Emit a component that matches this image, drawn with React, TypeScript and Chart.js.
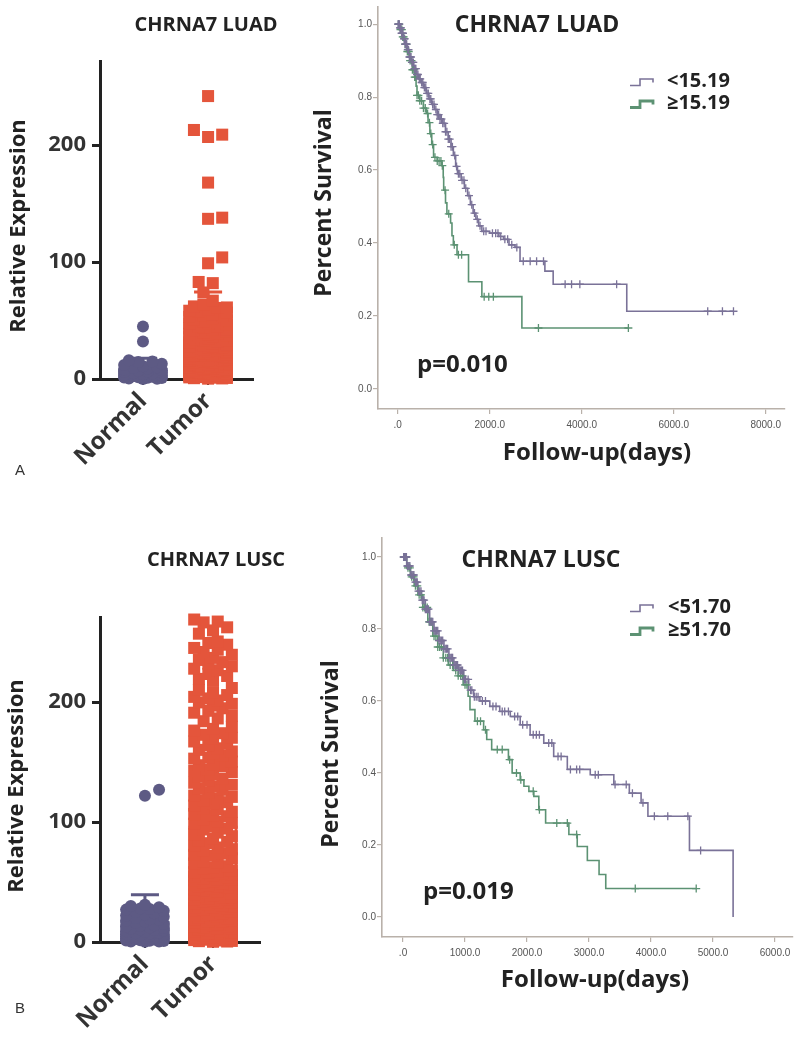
import React, { useEffect, useRef } from "react";
import { Chart, registerables } from "chart.js";
Chart.register(...registerables);

const FONT = "'Open Sans', 'DejaVu Sans', sans-serif";
const TICK_FONT = "'Liberation Sans', Arial, sans-serif";

// ---------- categories & ticks ----------
const categories = ["Normal", "Tumor"];
const exprTicks = [0, 100, 200];
const survTicks = [0, 0.2, 0.4, 0.6, 0.8, 1.0];
const luadDayTicks = [0, 2000, 4000, 6000, 8000];
const luscDayTicks = [0, 1000, 2000, 3000, 4000, 5000, 6000];

// ---------- panel A: LUAD expression ----------
const luadNormal = [45, 32, 16, 15, 14.5, 13, 12, 11, 10, 9.5, 9, 8, 7.5, 7, 6.5, 6, 5.5, 5, 4.5, 4, 3.5, 3, 2.5, 2, 1.5, 1.2, 1, 0.8, 0.5, 0.3, 0.1];
const luadTumor = [
  242, 213, 209, 207, 168, 138, 137, 104, 99, 83, 82, 74, 67,
  63.5, 62.1, 60.8, 59.2, 58.4, 56.9, 55.3, 54.7, 53.1, 51.6, 50.2, 49.5, 48.3, 47.1, 46.6, 45.2, 44.8,
  43.4, 42.2, 41.7, 40.3, 39.1, 38.6, 37.4, 36.2, 35.8, 34.5, 33.9, 32.6, 31.4, 30.8, 29.7, 29.1, 28.3,
  27.5, 26.8, 26.1, 25.4, 24.6, 23.9, 23.2, 22.7, 21.8, 21.1, 20.5, 19.8, 19.2, 18.4, 17.9, 17.1, 16.5,
  15.8, 15.2, 14.6, 13.9, 13.3, 12.7, 12.1, 11.5, 10.8, 10.2, 9.7, 9.1, 8.4, 7.9, 7.2, 6.6, 6.1, 5.4,
  4.9, 4.3, 3.8, 3.2, 2.7, 2.1, 1.6, 1.1, 0.7, 0.3,
  0.5, 0.9, 1.4, 1.8, 2.4, 2.9, 3.5, 4.1, 4.6, 5.2, 5.9, 6.3, 7.0, 7.6, 8.1, 8.8, 9.4, 10.0, 10.6, 11.2,
  11.9, 12.4, 13.0, 13.7, 14.3, 15.0, 15.5, 16.2, 16.9, 17.5, 18.1, 18.8, 19.5, 20.1, 20.8, 21.5, 22.3,
  23.0, 23.6, 24.3, 25.1, 25.8, 26.5, 27.3, 28.0, 28.8, 30.2, 31.9, 33.3, 35.1, 36.8, 38.2, 40.0, 42.5,
  44.1, 47.6, 50.8, 53.9, 57.5, 61.2,
];

// ---------- panel B: LUSC expression ----------
const luscNormal = [127, 122, 31, 30, 29, 28, 27.5, 27, 26, 25, 24, 23, 22, 21, 20, 19, 18.5, 18, 17, 16, 15, 14, 13.5, 13, 12, 11, 10, 9.5, 9, 8, 7, 6.5, 6, 5, 4.5, 4, 3.5, 3, 2.5, 2, 1.5, 1, 0.8, 0.5, 0.2, 1.2, 2.8, 4.2, 5.6, 7.5, 8.6, 10.4, 11.7, 3.3, 0.4];
const luscTumor = [
  268.9, 267.2, 266.5, 262.4, 259.8, 257.1,
  249.3, 247.9, 245.2, 241.8, 239.5, 236.9, 233.4, 232.1, 229.9, 226.6, 223.5, 221.8, 219.4,
  211.8, 208.3, 205.9, 203.1, 201.4, 199.8, 197.2, 194.9, 191.2, 188.7, 186.4,
  179.5, 176.3, 174.1, 172.8, 169.4, 167.2, 164.1, 161.5, 160.2, 157.3, 155.7, 152.9, 150.4, 148.2, 146.6,
  143.9, 141.7, 139.5, 136.2, 134.4, 131.1, 129.5, 127.7, 124.8, 122.1, 119.6, 117.9, 115.2, 113.8, 111.3,
  108.6, 106.7, 104.9, 102.3, 100.2, 98.7, 96.4, 93.8, 91.2, 89.9, 86.3, 84.7, 82.4, 80.2, 78.8, 76.5,
  73.7, 71.9, 69.8, 67.1, 65.5, 63.2, 61.1,
  250.6, 243.7, 235.2, 227.9, 217.8, 210.2, 204.4, 198.6, 192.8, 184.1, 177.7, 170.3, 165.4, 158.9, 153.8,
  147.4, 142.6, 137.7, 132.8, 126.9, 121.0, 116.6, 110.5, 105.8, 99.4, 94.6, 88.2, 83.5, 77.4, 72.6, 66.3, 62.0,
  59.6, 58.8, 57.9, 57.1, 56.2, 55.5, 54.6, 53.8, 52.9, 52.3, 51.4, 50.6, 49.7, 49.1, 48.2, 47.5, 46.6,
  45.9, 45.1, 44.3, 43.6, 42.8, 41.9, 41.2, 40.5, 39.7, 38.8, 38.1, 37.4, 36.6, 35.8, 35.1, 34.3, 33.6,
  32.8, 32.1, 31.3, 30.6, 29.8, 29.1, 28.4, 27.6, 26.9, 26.1, 25.4, 24.7, 23.9, 23.2, 22.5, 21.7, 21.1,
  20.3, 19.6, 18.9, 18.2, 17.4, 16.8, 16.1, 15.3, 14.7, 13.9, 13.2, 12.6, 11.8, 11.1, 10.5, 9.8, 9.1,
  8.4, 7.7, 7.1, 6.4, 5.8, 5.1, 4.5, 3.8, 3.2, 2.6, 1.9, 1.3, 0.7, 0.2,
  58.3, 55.9, 51.8, 47.9, 44.7, 40.1, 36.9, 33.2, 29.4, 25.9, 22.1, 18.6, 14.2, 10.9, 7.4, 4.1, 2.2, 0.9, 0.4, 1.6,
];

// ---------- panel A: LUAD survival ----------
const luadLowLabel = "<15.19";
const luadLowTime = [0, 40, 80, 120, 160, 200, 250, 300, 350, 400, 450, 500, 560, 620, 680, 740, 800, 860, 920, 980, 1040, 1100, 1160, 1210, 1260, 1300, 1380, 1450, 1520, 1580, 1640, 1700, 1760, 1830, 2000, 2200, 2300, 2420, 2550, 2660, 3200, 3380, 4980];
const luadLowSurv = [1.0, 0.99, 0.975, 0.96, 0.945, 0.93, 0.91, 0.895, 0.878, 0.862, 0.85, 0.84, 0.826, 0.81, 0.795, 0.78, 0.766, 0.752, 0.74, 0.728, 0.705, 0.685, 0.664, 0.64, 0.61, 0.59, 0.572, 0.55, 0.53, 0.505, 0.482, 0.465, 0.447, 0.432, 0.427, 0.418, 0.41, 0.395, 0.388, 0.35, 0.323, 0.287, 0.213];
const luadLowCensor = [20, 50, 70, 100, 140, 180, 220, 270, 310, 340, 380, 420, 470, 520, 580, 640, 700, 760, 830, 890, 950, 1010, 1070, 1130, 1190, 1240, 1320, 1400, 1480, 1550, 1610, 1670, 1730, 1790, 1870, 1920, 2060, 2130, 2180, 2240, 2330, 2390, 2480, 2590, 2730, 2880, 3020, 3170, 3640, 3780, 3960, 4760, 6740, 7060, 7300,
  10, 35, 60, 85, 115, 150, 165, 195, 235, 255, 290, 325, 365, 395, 440, 490, 545, 610, 665, 720, 790, 860, 920, 980, 1040, 1100, 1160, 1280, 1350, 1440];

const luadHighLabel = "≥15.19";
const luadHighTime = [0, 50, 100, 150, 200, 260, 320, 370, 400, 420, 480, 560, 620, 660, 700, 740, 780, 860, 960, 990, 1000, 1040, 1070, 1150, 1180, 1210, 1290, 1540, 1830, 2700];
const luadHighSurv = [1.0, 0.985, 0.965, 0.945, 0.925, 0.9, 0.875, 0.855, 0.83, 0.805, 0.79, 0.77, 0.755, 0.73, 0.7, 0.67, 0.635, 0.625, 0.612, 0.58, 0.545, 0.51, 0.48, 0.455, 0.42, 0.395, 0.368, 0.294, 0.253, 0.167];
const luadHighCensor = [30, 90, 130, 190, 240, 300, 350, 390, 450, 520, 600, 650, 720, 810, 900, 970, 1030, 1110, 1230, 1320, 1390, 1880, 1980, 2080, 3060, 5015,
  15, 60, 110, 160, 210, 270, 320, 370, 420, 480, 560, 690, 760, 860, 940];

// ---------- panel B: LUSC survival ----------
const luscLowLabel = "<51.70";
const luscLowTime = [0, 60, 120, 180, 240, 300, 360, 430, 500, 580, 660, 740, 820, 900, 980, 1060, 1140, 1240, 1400, 1560, 1730, 1890, 2050, 2270, 2430, 2650, 3020, 3400, 3650, 3840, 3950, 4620, 5324];
const luscLowSurv = [1.0, 0.975, 0.95, 0.93, 0.905, 0.88, 0.855, 0.82, 0.795, 0.768, 0.745, 0.72, 0.7, 0.685, 0.66, 0.63, 0.612, 0.6, 0.585, 0.571, 0.557, 0.534, 0.506, 0.483, 0.446, 0.41, 0.395, 0.368, 0.344, 0.317, 0.28, 0.185, 0.0];
const luscLowCensor = [20, 45, 70, 95, 130, 160, 200, 230, 270, 310, 340, 380, 410, 450, 480, 520, 560, 600, 640, 690, 720, 770, 800, 850, 880, 930, 960, 1010, 1090, 1110, 1180, 1210, 1280, 1330, 1450, 1500, 1600, 1640, 1700, 1800, 1850, 1930, 2000, 2100, 2150, 2200, 2350, 2400, 2500, 2550, 2700, 2800, 2850, 3100, 3150, 3420, 3600, 3700, 3870, 4054, 4270, 4594, 4800,
  10, 30, 55, 80, 110, 145, 175, 215, 250, 290, 325, 360, 395, 430, 465, 500, 540, 580, 620, 660, 700, 745, 785, 825, 865, 905, 945, 990, 1050, 1150];

const luscHighLabel = "≥51.70";
const luscHighTime = [0, 60, 120, 180, 240, 320, 400, 480, 560, 650, 730, 810, 890, 970, 1050, 1080, 1160, 1300, 1350, 1430, 1700, 1760, 1890, 1950, 2030, 2110, 2190, 2300, 2675, 2810, 2973, 3162, 3270];
const luscHighSurv = [1.0, 0.97, 0.945, 0.92, 0.895, 0.86, 0.82, 0.78, 0.75, 0.72, 0.7, 0.685, 0.67, 0.645, 0.613, 0.576, 0.544, 0.52, 0.493, 0.465, 0.437, 0.4, 0.381, 0.363, 0.349, 0.335, 0.298, 0.261, 0.229, 0.196, 0.157, 0.118, 0.079];
const luscHighCensor = [30, 80, 140, 200, 260, 290, 350, 420, 460, 530, 590, 620, 690, 760, 850, 930, 1000, 1030, 1200, 1250, 1330, 1520, 1600, 1720, 1830, 1900, 2100, 2200, 2480, 2650, 2800, 3746, 4729,
  15, 50, 110, 170, 230, 320, 390, 440, 500, 560, 650, 720, 800, 890, 960];

// ---------- styles ----------
const DOT_PURPLE = "#5d5a84";
const DOT_RED = "#e4553b";
const KM_PURPLE = "#7a7298";
const KM_GREEN = "#5c9273";
const KM_AXIS = "#b9b1aa";
const INK = "#222";

type Pt = { x: number; y: number | null };
type SwarmOpts = { pxX: number; pxY: number; size: number; half: number; maxK: number; lambda: number };

function swarm(values: number[], center: number, o: SwarmOpts): Pt[] {
  const sorted = [...values].sort((a, b) => a - b);
  const placed: { dx: number; py: number }[] = [];
  const out: Pt[] = [];
  const cands: number[] = [0];
  for (let k = 1; k <= o.maxK; k++) cands.push(k * o.half, -k * o.half);
  for (const v of sorted) {
    const py = v * o.pxY;
    let best = 0;
    let bestCost = Infinity;
    for (const c of cands) {
      let overlap = 0;
      for (const p of placed) {
        const ox = o.size - Math.abs(p.dx - c);
        const oy = o.size - Math.abs(p.py - py);
        if (ox > 0 && oy > 0) overlap += ox * oy;
      }
      const cost = overlap + o.lambda * Math.abs(c);
      if (cost < bestCost - 1e-6) {
        bestCost = cost;
        best = c;
      }
    }
    placed.push({ dx: best, py });
    out.push({ x: center + best / o.pxX, y: v });
  }
  return out;
}

function stats(v: number[]) {
  const n = v.length;
  const m = v.reduce((a, b) => a + b, 0) / n;
  const sd = Math.sqrt(v.reduce((a, b) => a + (b - m) * (b - m), 0) / (n - 1));
  return { m, sd };
}

function meanBar(values: number[], center: number, halfW: number, capW: number): Pt[] {
  const { m, sd } = stats(values);
  return [
    { x: center - halfW, y: 0 },
    { x: center - halfW, y: m },
    { x: center + halfW, y: m },
    { x: center + halfW, y: 0 },
    { x: center, y: null },
    { x: center, y: m },
    { x: center, y: m + sd },
    { x: center, y: null },
    { x: center - capW, y: m + sd },
    { x: center + capW, y: m + sd },
  ];
}

function stepData(time: number[], surv: number[], censor: number[]): Pt[] {
  const pts: Pt[] = time.map((t, i) => ({ x: t, y: surv[i] }));
  const lastT = time[time.length - 1];
  const endT = Math.max(lastT, ...censor);
  if (endT > lastT) pts.push({ x: endT, y: surv[surv.length - 1] });
  return pts;
}

function censorData(time: number[], surv: number[], censor: number[]): Pt[] {
  return censor.map((c) => {
    let s = surv[0];
    for (let i = 0; i < time.length; i++) if (time[i] <= c) s = surv[i];
    return { x: c, y: s };
  });
}

type TextItem = { text: string; x: number; y: number; font: string; color?: string; align?: CanvasTextAlign; rot?: number };
type LegendSpec = { x: number; y0: number; gap: number; textX: number; font: string };

function makeTextPlugin(items: TextItem[], legend?: LegendSpec) {
  return {
    id: "panelTexts",
    afterDraw(chart: any) {
      const ctx: CanvasRenderingContext2D = chart.ctx;
      for (const it of items) {
        ctx.save();
        ctx.font = it.font;
        ctx.fillStyle = it.color || INK;
        ctx.textAlign = it.align || "center";
        ctx.textBaseline = "middle";
        ctx.translate(it.x, it.y);
        if (it.rot) ctx.rotate((it.rot * Math.PI) / 180);
        ctx.fillText(it.text, 0, 0);
        ctx.restore();
      }
      if (legend) {
        const sets = chart.data.datasets.filter((d: any) => d.kmLegend);
        sets.forEach((d: any, i: number) => {
          const y = legend.y0 + i * legend.gap;
          const x = legend.x;
          ctx.save();
          ctx.strokeStyle = d.borderColor;
          ctx.lineWidth = d.legendWidth;
          ctx.beginPath();
          ctx.moveTo(x, y + 4.5);
          ctx.lineTo(x + 10, y + 4.5);
          ctx.lineTo(x + 10, y - 2);
          ctx.lineTo(x + 23, y - 2);
          ctx.lineTo(x + 23, y + 1.5);
          ctx.stroke();
          ctx.font = legend.font;
          ctx.fillStyle = INK;
          ctx.textAlign = "left";
          ctx.textBaseline = "middle";
          ctx.fillText(d.label, legend.textX, y);
          ctx.restore();
        });
      }
    },
  };
}

type DotSpec = {
  normal: number[];
  tumor: number[];
  yMax: number;
  xMin: number;
  xMax: number;
  pxX: number;
  pxY: number;
  padTop: number;
  padRight: number;
  yW: number;
  xH: number;
  texts: TextItem[];
};

function dotConfig(p: DotSpec): any {
  const sw: SwarmOpts = { pxX: p.pxX, pxY: p.pxY, size: 11.5, half: 4.7, maxK: 4, lambda: 1.5 };
  const nPts = swarm(p.normal, 0, sw);
  const tPts = swarm(p.tumor, 1, sw);
  const halfW = 23 / p.pxX;
  const capW = 14 / p.pxX;
  return {
    type: "scatter",
    data: {
      datasets: [
        { label: categories[0], data: nPts, pointStyle: "circle", pointRadius: 6, pointBackgroundColor: DOT_PURPLE, pointBorderWidth: 0, backgroundColor: DOT_PURPLE, borderColor: DOT_PURPLE, clip: false, order: 1 },
        { label: categories[1], data: tPts, pointStyle: "rect", pointRadius: 8.5, pointBackgroundColor: DOT_RED, pointBorderWidth: 0, backgroundColor: DOT_RED, borderColor: DOT_RED, clip: false, order: 1 },
        { type: "line", label: "Normal mean", data: meanBar(p.normal, 0, halfW, capW), borderColor: DOT_PURPLE, borderWidth: 3, pointRadius: 0, fill: false, spanGaps: false, clip: false, order: 3 },
        { type: "line", label: "Tumor mean", data: meanBar(p.tumor, 1, halfW, capW), borderColor: DOT_RED, borderWidth: 3, pointRadius: 0, fill: false, spanGaps: false, clip: false, order: 3 },
      ],
    },
    options: {
      responsive: false,
      animation: false,
      devicePixelRatio: 1,
      events: [],
      layout: { padding: { left: 0, top: p.padTop, right: p.padRight, bottom: 0 } },
      plugins: { legend: { display: false }, tooltip: { enabled: false }, title: { display: false } },
      scales: {
        x: {
          type: "linear",
          min: p.xMin,
          max: p.xMax,
          grid: { display: true, drawOnChartArea: false, drawTicks: true, tickLength: 6, lineWidth: 2, color: INK },
          border: { display: true, color: INK, width: 3 },
          ticks: {
            autoSkip: false,
            minRotation: 45,
            maxRotation: 45,
            padding: 2,
            color: "#333",
            font: { family: FONT, size: 24, weight: "bold" },
            callback: (v: any) => categories[v as number] ?? "",
          },
          afterBuildTicks: (s: any) => {
            s.ticks = categories.map((_, i) => ({ value: i }));
          },
          afterFit: (s: any) => {
            s.height = p.xH;
            s.paddingLeft = 0;
            s.paddingRight = 0;
          },
        },
        y: {
          type: "linear",
          min: 0,
          max: p.yMax,
          grid: { display: true, drawOnChartArea: false, drawTicks: true, tickLength: 8, lineWidth: 3, color: INK },
          border: { display: true, color: INK, width: 3 },
          ticks: { padding: 6, color: "#333", font: { family: FONT, size: 22, weight: "bold" }, callback: (v: any) => String(v) },
          afterBuildTicks: (s: any) => {
            s.ticks = exprTicks.map((v) => ({ value: v }));
          },
          afterFit: (s: any) => {
            s.width = p.yW;
            s.paddingTop = 0;
            s.paddingBottom = 0;
          },
        },
      },
    },
    plugins: [makeTextPlugin(p.texts)],
  };
}

type KmGroup = { label: string; time: number[]; surv: number[]; censor: number[]; color: string; legendWidth: number };
type KmSpec = {
  groups: KmGroup[];
  xMin: number;
  xMax: number;
  xTicks: number[];
  yMin: number;
  yMax: number;
  padTop: number;
  padRight: number;
  yW: number;
  xH: number;
  texts: TextItem[];
  legend: LegendSpec;
};

function kmConfig(p: KmSpec): any {
  const datasets: any[] = [];
  p.groups.forEach((g) => {
    datasets.push({
      type: "line",
      label: g.label,
      kmLegend: true,
      legendWidth: g.legendWidth,
      data: stepData(g.time, g.surv, g.censor),
      stepped: true,
      borderColor: g.color,
      borderWidth: 1.6,
      pointRadius: 0,
      fill: false,
      order: 2,
    });
    datasets.push({
      type: "scatter",
      label: g.label + " censored",
      data: censorData(g.time, g.surv, g.censor),
      pointStyle: "cross",
      pointRadius: 4,
      pointBorderWidth: 1.3,
      borderColor: g.color,
      backgroundColor: g.color,
      showLine: false,
      clip: false,
      order: 1,
    });
  });
  return {
    type: "scatter",
    data: { datasets },
    options: {
      responsive: false,
      animation: false,
      devicePixelRatio: 1,
      events: [],
      layout: { padding: { left: 0, top: p.padTop, right: p.padRight, bottom: 0 } },
      plugins: { legend: { display: false }, tooltip: { enabled: false }, title: { display: false } },
      scales: {
        x: {
          type: "linear",
          min: p.xMin,
          max: p.xMax,
          grid: { display: true, drawOnChartArea: false, drawTicks: true, tickLength: 5, lineWidth: 1.2, color: KM_AXIS },
          border: { display: true, color: KM_AXIS, width: 1.6 },
          ticks: {
            autoSkip: false,
            maxRotation: 0,
            minRotation: 0,
            padding: 5,
            color: "#555",
            font: { family: TICK_FONT, size: 10 },
            callback: (v: any) => (v === 0 ? ".0" : Number(v).toFixed(1)),
          },
          afterBuildTicks: (s: any) => {
            s.ticks = p.xTicks.map((v) => ({ value: v }));
          },
          afterFit: (s: any) => {
            s.height = p.xH;
            s.paddingLeft = 0;
            s.paddingRight = 0;
          },
        },
        y: {
          type: "linear",
          min: p.yMin,
          max: p.yMax,
          grid: { display: true, drawOnChartArea: false, drawTicks: true, tickLength: 5, lineWidth: 1.2, color: KM_AXIS },
          border: { display: true, color: KM_AXIS, width: 1.6 },
          ticks: { padding: 1, color: "#555", font: { family: TICK_FONT, size: 10 }, callback: (v: any) => Number(v).toFixed(1) },
          afterBuildTicks: (s: any) => {
            s.ticks = survTicks.map((v) => ({ value: v }));
          },
          afterFit: (s: any) => {
            s.width = p.yW;
            s.paddingTop = 0;
            s.paddingBottom = 0;
          },
        },
      },
    },
    plugins: [makeTextPlugin(p.texts, p.legend)],
  };
}

const bold = (n: number) => `bold ${n}px ${FONT}`;
const letterFont = `15px ${TICK_FONT}`;

const makeLuadDot = () =>
  dotConfig({
    normal: luadNormal,
    tumor: luadTumor,
    yMax: 272,
    xMin: -0.66,
    xMax: 1.69,
    pxX: 65,
    pxY: 1.17,
    padTop: 61,
    padRight: 37,
    yW: 100,
    xH: 111,
    texts: [
      { text: "CHRNA7 LUAD", x: 206, y: 25, font: bold(20) },
      { text: "Relative Expression", x: 19, y: 226, rot: -90, font: bold(22) },
      { text: "A", x: 20, y: 471, font: letterFont, color: "#333" },
    ],
  });

const makeLuscDot = () =>
  dotConfig({
    normal: luscNormal,
    tumor: luscTumor,
    yMax: 271,
    xMin: -0.66,
    xMax: 1.69,
    pxX: 68,
    pxY: 1.2,
    padTop: 107,
    padRight: 30,
    yW: 100,
    xH: 106,
    texts: [
      { text: "CHRNA7 LUSC", x: 216, y: 50, font: bold(20) },
      { text: "Relative Expression", x: 17, y: 276, rot: -90, font: bold(22) },
      { text: "B", x: 20, y: 499, font: letterFont, color: "#333" },
    ],
  });

const makeLuadKm = () =>
  kmConfig({
    groups: [
      { label: luadLowLabel, time: luadLowTime, surv: luadLowSurv, censor: luadLowCensor, color: KM_PURPLE, legendWidth: 1.6 },
      { label: luadHighLabel, time: luadHighTime, surv: luadHighSurv, censor: luadHighCensor, color: KM_GREEN, legendWidth: 2.8 },
    ],
    xMin: -428,
    xMax: 8420,
    xTicks: luadDayTicks,
    yMin: -0.055,
    yMax: 1.047,
    padTop: 7,
    padRight: 15,
    yW: 88,
    xH: 81,
    texts: [
      { text: "CHRNA7 LUAD", x: 247, y: 25, font: bold(23) },
      { text: "Percent Survival", x: 34, y: 203, rot: -90, font: bold(23) },
      { text: "Follow-up(days)", x: 307, y: 453, font: bold(24) },
      { text: "p=0.010", x: 127, y: 365, align: "left", font: bold(24) },
    ],
    legend: { x: 340, y0: 81, gap: 22, textX: 377, font: bold(20) },
  });

const makeLuscKm = () =>
  kmConfig({
    groups: [
      { label: luscLowLabel, time: luscLowTime, surv: luscLowSurv, censor: luscLowCensor, color: KM_PURPLE, legendWidth: 1.6 },
      { label: luscHighLabel, time: luscHighTime, surv: luscHighSurv, censor: luscHighCensor, color: KM_GREEN, legendWidth: 2.8 },
    ],
    xMin: -339,
    xMax: 6290,
    xTicks: luscDayTicks,
    yMin: -0.0556,
    yMax: 1.0528,
    padTop: 28,
    padRight: 7,
    yW: 92,
    xH: 111,
    texts: [
      { text: "CHRNA7 LUSC", x: 251, y: 50, font: bold(23) },
      { text: "Percent Survival", x: 41, y: 244, rot: -90, font: bold(23) },
      { text: "Follow-up(days)", x: 305, y: 470, font: bold(24) },
      { text: "p=0.019", x: 133, y: 382, align: "left", font: bold(24) },
    ],
    legend: { x: 340, y0: 97, gap: 23, textX: 378, font: bold(20) },
  });

function ChartBox(props: { left: number; top: number; width: number; height: number; make: () => any }) {
  const ref = useRef<HTMLCanvasElement>(null);
  useEffect(() => {
    const chart = new Chart(ref.current as HTMLCanvasElement, props.make());
    return () => chart.destroy();
  }, []);
  return (
    <canvas
      ref={ref}
      width={props.width}
      height={props.height}
      style={{ position: "absolute", left: props.left, top: props.top, width: props.width, height: props.height }}
    />
  );
}

export default function App() {
  return (
    <div style={{ position: "absolute", left: 0, top: 0, width: 800, height: 1048, background: "#fff", overflow: "hidden" }}>
      <ChartBox left={0} top={0} width={290} height={490} make={makeLuadDot} />
      <ChartBox left={290} top={0} width={510} height={490} make={makeLuadKm} />
      <ChartBox left={0} top={510} width={290} height={538} make={makeLuscDot} />
      <ChartBox left={290} top={510} width={510} height={538} make={makeLuscKm} />
    </div>
  );
}
